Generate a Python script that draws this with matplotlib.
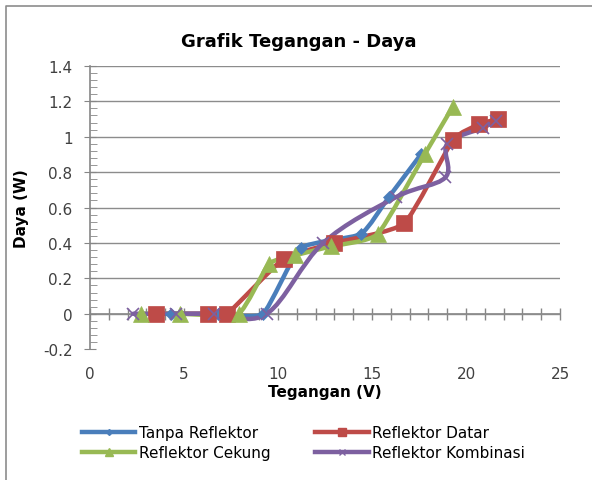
import matplotlib
matplotlib.use("Agg")
import matplotlib.pyplot as plt
from matplotlib.path import Path
from matplotlib.patches import PathPatch
from matplotlib.lines import Line2D
import numpy as np

# data
tanpa_x = [4.3, 6.8, 9.2, 11.2, 14.4, 15.9, 17.6]
tanpa_y = [0.0, 0.0, 0.0, 0.37, 0.45, 0.66, 0.90]

datar_x = [3.5, 6.3, 7.3, 10.3, 13.0, 16.7, 19.3, 20.7, 21.7]
datar_y = [0.0, 0.0, 0.0, 0.31, 0.40, 0.51, 0.98, 1.07, 1.10]

cekung_x = [2.7, 4.8, 7.9, 9.5, 10.9, 12.8, 15.3, 17.8, 19.3]
cekung_y = [0.0, 0.0, 0.0, 0.28, 0.33, 0.38, 0.45, 0.90, 1.17]

kombinasi_x = [2.3, 4.6, 6.6, 9.4, 12.4, 16.3, 18.9, 19.0, 20.9, 21.6]
kombinasi_y = [0.0, 0.0, 0.0, 0.0, 0.40, 0.66, 0.77, 0.96, 1.05, 1.09]

labels = ["Tanpa Reflektor", "Reflektor Datar", "Reflektor Cekung", "Reflektor Kombinasi"]
colors = ["#4A7EBB", "#BE4B48", "#98B954", "#7D60A0"]
markers = ["D", "s", "^", "x"]
msizes = [6, 11, 11, 8]
tension = [12, 12, 12, 6]


def smooth_path(xs, ys, k):
    # smoothed line through the points: catmull-rom as cubic bezier
    pts = np.column_stack([xs, ys])
    verts = [pts[0]]
    codes = [Path.MOVETO]
    n = len(pts)
    for i in range(n - 1):
        p0 = pts[i - 1] if i > 0 else pts[i]
        p1 = pts[i]
        p2 = pts[i + 1]
        p3 = pts[i + 2] if i + 2 < n else pts[i + 1]
        c1 = p1 + (p2 - p0) / k
        c2 = p2 - (p3 - p1) / k
        verts += [c1, c2, p2]
        codes += [Path.CURVE4] * 3
    return Path(verts, codes)


fig = plt.figure(figsize=(5.92, 4.81), dpi=100)
ax = fig.add_axes([0.152, 0.272, 0.794, 0.589])

series = [(tanpa_x, tanpa_y), (datar_x, datar_y), (cekung_x, cekung_y), (kombinasi_x, kombinasi_y)]
for (xs, ys), c, m, ms, k in zip(series, colors, markers, msizes, tension):
    ax.add_patch(PathPatch(smooth_path(xs, ys, k), fill=False, edgecolor=c, lw=3.2,
                           capstyle="round", joinstyle="round", zorder=3))
    ax.plot(xs, ys, linestyle="none", marker=m, color=c, markersize=ms,
            markeredgewidth=1.2 if m == "x" else 0.5, zorder=4)

ax.set_xlim(0, 25)
ax.set_ylim(-0.2, 1.4)
ax.set_yticks(np.arange(-0.2, 1.41, 0.2))
ax.set_yticks(np.arange(-0.2, 1.41, 0.04), minor=True)
ax.set_yticklabels(["-0.2", "0", "0.2", "0.4", "0.6", "0.8", "1", "1.2", "1.4"])
ax.set_xticks([0, 5, 10, 15, 20, 25])
ax.grid(axis="y", which="major", color="#8c8c8c", lw=1)
ax.get_ygridlines()[0].set_visible(False)
ax.set_axisbelow(True)

for s in ["top", "right", "bottom"]:
    ax.spines[s].set_visible(False)
ax.spines["left"].set_color("#868686")
ax.spines["left"].set_linewidth(1.2)
ax.tick_params(axis="y", which="major", direction="inout", length=9, color="#868686",
               labelsize=11, labelcolor="#404040", pad=8)
ax.tick_params(axis="y", which="minor", direction="in", length=5, color="#868686")
ax.tick_params(axis="x", length=0, labelsize=11, labelcolor="#404040", pad=12)

# horizontal axis crossing at zero
sec = ax.secondary_xaxis(0.2 / 1.6)
sec.set_xticks(np.arange(0, 26, 1))
sec.tick_params(direction="inout", length=8, color="#868686", labelbottom=False, width=1)
sec.spines["bottom"].set_color("#868686")
sec.spines["bottom"].set_linewidth(1.2)

ax.set_xlabel("Tegangan (V)", fontsize=11, fontweight="bold", labelpad=2)
ax.set_ylabel("Daya (W)", fontsize=11, fontweight="bold", labelpad=10)
fig.text(0.504, 0.912, "Grafik Tegangan - Daya", ha="center", va="center",
         fontsize=13, fontweight="bold")

handles = [Line2D([], [], color=c, lw=3.2, marker=m, markersize=ms * 0.5)
           for c, m, ms in zip(colors, markers, msizes)]
order = [0, 2, 1, 3]
fig.legend([handles[i] for i in order], [labels[i] for i in order], ncol=2,
           loc="upper left", bbox_to_anchor=(0.115, 0.142),
           frameon=False, fontsize=11, handlelength=3.5, columnspacing=2.9,
           labelspacing=0.3, handletextpad=0.25)

# chart area border (left/top visible in reference)
fig.add_artist(Line2D([0.01, 0.01, 1.2], [-0.1, 0.985, 0.985], transform=fig.transFigure,
                      color="#8c8c8c", lw=1.2))

fig.savefig("out.png", dpi=100)
